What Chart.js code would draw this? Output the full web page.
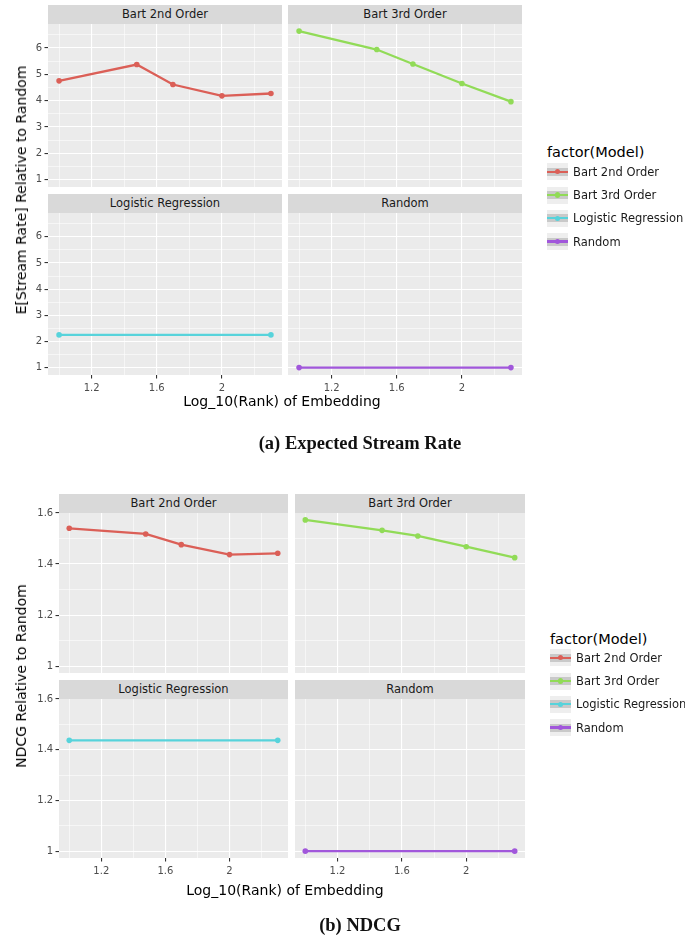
<!DOCTYPE html>
<html><head><meta charset="utf-8">
<script src="https://cdn.jsdelivr.net/npm/chart.js@4.4.0/dist/chart.umd.min.js"></script>
<style>
body{margin:0;background:#fff;width:685px;height:938px;position:relative;overflow:hidden;font-family:'DejaVu Sans',sans-serif;}
canvas{position:absolute;}
.strip{position:absolute;background:#D9D9D9;color:#1A1A1A;font-size:11.5px;text-align:center;white-space:nowrap;}
.atitle{position:absolute;white-space:nowrap;color:#000;font-size:14px;line-height:16px;transform:translate(-50%,-50%);}
.ytitle{transform:translate(-50%,-50%) rotate(-90deg);}
.ltitle{position:absolute;white-space:nowrap;color:#000;font-size:14.5px;line-height:16px;}
.lkey{position:absolute;width:21px;height:17px;background:#EEEEEE;}
.lband{position:absolute;left:0;top:4.5px;width:21px;height:8px;background:#C9C9C9;}
.lline{position:absolute;left:0;top:7.4px;width:21px;height:2.3px;}
.ldot{position:absolute;left:7.8px;top:5.8px;width:5.4px;height:5.4px;border-radius:50%;}
.llabel{position:absolute;white-space:nowrap;color:#1A1A1A;font-size:11.5px;line-height:14px;}
.caption{position:absolute;font-family:'Liberation Serif',serif;font-weight:bold;font-size:18.5px;color:#111;white-space:nowrap;transform:translate(-50%,-50%);}
</style></head><body>
<script>
// ---------- data ----------
const models = ["Bart 2nd Order", "Bart 3rd Order", "Logistic Regression", "Random"];
const xBart = [1.0, 1.477, 1.699, 2.0, 2.301];      // log10(rank)
const xFlat = [1.0, 2.301];

const streamBart2 = [4.75, 5.37, 4.61, 4.18, 4.27];
const streamBart3 = [6.64, 5.94, 5.39, 4.65, 3.96];
const streamLogistic = [2.25, 2.25];
const streamRandom = [1.0, 1.0];

const ndcgBart2 = [1.540, 1.518, 1.476, 1.437, 1.442];
const ndcgBart3 = [1.573, 1.532, 1.510, 1.468, 1.425];
const ndcgLogistic = [1.437, 1.437];
const ndcgRandom = [1.0, 1.0];

const xTickValues = [1.0, 1.2, 1.4, 1.6, 1.8, 2.0, 2.2];
const xTickLabels = ["", "1.2", "", "1.6", "", "2", ""];
const streamTickValues = [1, 1.5, 2, 2.5, 3, 3.5, 4, 4.5, 5, 5.5, 6, 6.5];
const streamTickLabels = ["1", "", "2", "", "3", "", "4", "", "5", "", "6", ""];
const ndcgTickValues = [1.0, 1.1, 1.2, 1.3, 1.4, 1.5, 1.6];
const ndcgTickLabels = ["1", "", "1.2", "", "1.4", "", "1.6"];

// ---------- style ----------
const palette = ["#DB5F57", "#91DB57", "#57D3DB", "#A157DB"];
Chart.defaults.font.family = "'DejaVu Sans', sans-serif";

const bgPlugin = {
  id: 'panelBg',
  beforeDraw(chart) {
    const a = chart.chartArea, ctx = chart.ctx;
    ctx.save(); ctx.fillStyle = '#EBEBEB';
    ctx.fillRect(a.left, a.top, a.right - a.left, a.bottom - a.top);
    ctx.restore();
  }
};

const PADL = 45, PADT = 8, PADR = 8, PADB = 26, YW = 40, XH = 22;
function findLabel(vals, labels, v) {
  for (let j = 0; j < vals.length; j++) if (Math.abs(vals[j] - v) < 1e-9) return labels[j];
  return "";
}
function isMajor(vals, labels, v) { return findLabel(vals, labels, v) !== ""; }

function panel(p) {
  const c = document.createElement('canvas');
  const w = (p.R - p.L) + PADL + PADR, h = (p.B - p.T) + PADT + PADB;
  c.width = w; c.height = h;
  c.style.left = (p.L - PADL) + 'px'; c.style.top = (p.T - PADT) + 'px';
  c.style.width = w + 'px'; c.style.height = h + 'px';
  document.body.appendChild(c);
  const showY = p.col === 0, showX = p.row === 1;
  const yv = p.yTicks, yl = p.yLabels;
  new Chart(c, {
    type: 'line',
    data: { datasets: [{
      data: p.xs.map((x, i) => ({ x: x, y: p.ys[i] })),
      borderColor: p.color, backgroundColor: p.color,
      borderWidth: 2.3, pointRadius: 2.8, pointHoverRadius: 2.8, pointBorderWidth: 0,
      tension: 0, fill: false
    }]},
    options: {
      responsive: false, animation: false, devicePixelRatio: 1, events: [],
      layout: { padding: { left: PADL - (showY ? YW : 0), top: PADT, right: PADR, bottom: PADB - (showX ? XH : 0) } },
      plugins: { legend: { display: false }, tooltip: { enabled: false } },
      scales: {
        x: {
          type: 'linear', min: p.xMin, max: p.xMax,
          afterBuildTicks: s => { s.ticks = xTickValues.map(v => ({ value: v })); },
          afterFit: s => { s.height = showX ? XH : 0; s.paddingLeft = 0; s.paddingRight = 0; },
          ticks: { display: showX, autoSkip: false, maxRotation: 0, minRotation: 0, padding: 4,
                   color: '#4D4D4D', font: { size: 10 },
                   callback: v => findLabel(xTickValues, xTickLabels, v) },
          grid: { color: '#FFFFFF', drawTicks: showX, tickLength: 3.5, tickWidth: 1.1,
                  lineWidth: ctx => isMajor(xTickValues, xTickLabels, ctx.tick ? ctx.tick.value : 0) ? 1.1 : 0.55,
                  tickColor: ctx => isMajor(xTickValues, xTickLabels, ctx.tick ? ctx.tick.value : 0) ? '#333333' : 'rgba(0,0,0,0)' },
          border: { display: false }
        },
        y: {
          type: 'linear', min: p.yMin, max: p.yMax,
          afterBuildTicks: s => { s.ticks = yv.map(v => ({ value: v })); },
          afterFit: s => { s.width = showY ? YW : 0; s.paddingTop = 0; s.paddingBottom = 0; },
          ticks: { display: showY, autoSkip: false, padding: 2.3, color: '#4D4D4D', font: { size: 10 },
                   callback: v => findLabel(yv, yl, v) },
          grid: { color: '#FFFFFF', drawTicks: showY, tickLength: 3.5, tickWidth: 1.1,
                  lineWidth: ctx => isMajor(yv, yl, ctx.tick ? ctx.tick.value : 0) ? 1.1 : 0.55,
                  tickColor: ctx => isMajor(yv, yl, ctx.tick ? ctx.tick.value : 0) ? '#333333' : 'rgba(0,0,0,0)' },
          border: { display: false }
        }
      }
    },
    plugins: [bgPlugin]
  });
  const s = document.createElement('div');
  s.className = 'strip';
  s.style.left = p.L + 'px'; s.style.width = (p.R - p.L) + 'px';
  s.style.top = p.stripTop + 'px'; s.style.height = (p.T - p.stripTop) + 'px';
  s.style.lineHeight = (p.T - p.stripTop) + 'px';
  s.textContent = p.title;
  document.body.appendChild(s);
}

function addDiv(cls, text, styles) {
  const d = document.createElement('div');
  d.className = cls; if (text) d.textContent = text;
  Object.assign(d.style, styles);
  document.body.appendChild(d);
  return d;
}

function legend(x, titleCY, firstCY, step) {
  addDiv('ltitle', 'factor(Model)', { left: x + 'px', top: (titleCY - 8) + 'px' });
  models.forEach((m, i) => {
    const cy = firstCY + step * i;
    const k = addDiv('lkey', null, { left: x + 'px', top: (cy - 8.5) + 'px' });
    const b = document.createElement('div'); b.className = 'lband'; k.appendChild(b);
    const l = document.createElement('div'); l.className = 'lline'; l.style.background = palette[i]; k.appendChild(l);
    const d = document.createElement('div'); d.className = 'ldot'; d.style.background = palette[i]; k.appendChild(d);
    addDiv('llabel', m, { left: (x + 26) + 'px', top: (cy - 7) + 'px' });
  });
}

// ---------- figure (a) ----------
const aX = { xMin: 0.932, xMax: 2.369 };
const aY = { yMin: 0.717, yMax: 6.91, yTicks: streamTickValues, yLabels: streamTickLabels };
const aSeries = [
  { title: models[0], xs: xBart, ys: streamBart2, color: palette[0], col: 0, row: 0 },
  { title: models[1], xs: xBart, ys: streamBart3, color: palette[1], col: 1, row: 0 },
  { title: models[2], xs: xFlat, ys: streamLogistic, color: palette[2], col: 0, row: 1 },
  { title: models[3], xs: xFlat, ys: streamRandom, color: palette[3], col: 1, row: 1 }
];
const aCols = [[48, 282], [288, 522]];
const aRows = [[5, 24, 187], [194, 213, 375]];
aSeries.forEach(s => panel(Object.assign({}, s, aX, aY, {
  L: aCols[s.col][0], R: aCols[s.col][1],
  stripTop: aRows[s.row][0], T: aRows[s.row][1], B: aRows[s.row][2]
})));
addDiv('atitle', 'Log_10(Rank) of Embedding', { left: '282px', top: '401px' });
addDiv('atitle ytitle', 'E[Stream Rate] Relative to Random', { left: '21px', top: '190px' });
legend(547, 151.5, 171.7, 23.3);
addDiv('caption', '(a) Expected Stream Rate', { left: '360px', top: '443px' });

// ---------- figure (b) ----------
const bX = { xMin: 0.936, xMax: 2.365 };
const bY = { yMin: 0.973, yMax: 1.6, yTicks: ndcgTickValues, yLabels: ndcgTickLabels };
const bSeries = [
  { title: models[0], xs: xBart, ys: ndcgBart2, color: palette[0], col: 0, row: 0 },
  { title: models[1], xs: xBart, ys: ndcgBart3, color: palette[1], col: 1, row: 0 },
  { title: models[2], xs: xFlat, ys: ndcgLogistic, color: palette[2], col: 0, row: 1 },
  { title: models[3], xs: xFlat, ys: ndcgRandom, color: palette[3], col: 1, row: 1 }
];
const bCols = [[59, 288], [295, 525]];
const bRows = [[494, 513, 673], [680, 699, 858]];
bSeries.forEach(s => panel(Object.assign({}, s, bX, bY, {
  L: bCols[s.col][0], R: bCols[s.col][1],
  stripTop: bRows[s.row][0], T: bRows[s.row][1], B: bRows[s.row][2]
})));
addDiv('atitle', 'Log_10(Rank) of Embedding', { left: '285px', top: '890px' });
addDiv('atitle ytitle', 'NDCG Relative to Random', { left: '20.5px', top: '676px' });
legend(550, 638.5, 657.7, 23.3);
addDiv('caption', '(b) NDCG', { left: '360px', top: '925px' });
</script>
</body></html>
